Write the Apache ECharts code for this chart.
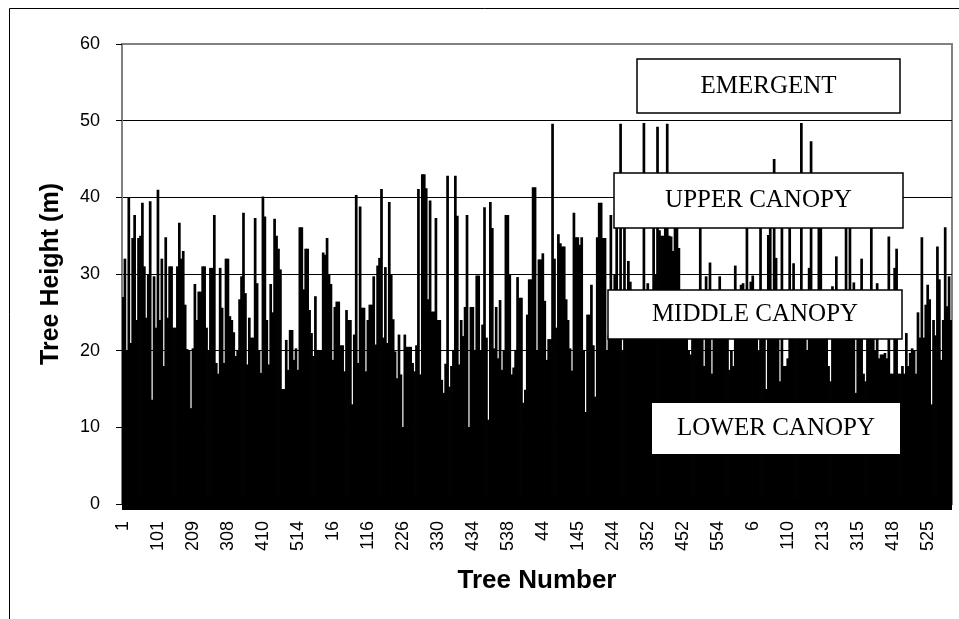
<!DOCTYPE html>
<html>
<head>
<meta charset="utf-8">
<script src="https://cdn.jsdelivr.net/npm/echarts@6/dist/echarts.min.js"></script>
<style>
html,body{margin:0;padding:0;background:#fff;}
#chart{width:959px;height:619px;}
</style>
</head>
<body>
<div id="chart"></div>
<script>
// Tick labels shown on the category axis (tree numbers, every 18th bar)
const tickLabels = ['1','101','209','308','410','514','16','116','226','330','434','538','44','145','244','352','452','554','6','110','213','315','418','525'];
const labelEvery = 18;

// Tree heights (m) left to right
const heights = [
27,32,20,40,21,34.7,37.7,24,34.7,35,39.3,31,24.3,30,39.5,13.6,29.7,23,41,24,
32,18,34.8,24.3,31,31,23,23,31,36.7,32,33,26,20.2,20,12.5,20.3,28.7,24,27.7,
27.7,31,31,23,20,30.8,30.8,37.7,18.4,17,30.8,25.6,18.4,32,32,24.5,24,22.4,19.3,20.1,
26.7,29.7,38,27.5,18.2,24.3,21.7,21.7,37.3,28.8,20,17.1,40.1,37.5,24,18.2,28.7,25,37.2,35,
33.3,30.6,15,15,21.4,17.5,22.7,22.7,18.8,20.3,17.5,36.1,36.1,28,33.3,33.3,25.3,22.3,19.3,27.1,
20.1,20,20,32.8,32.5,34.7,30,28.7,18.8,25.7,26.4,26.4,20.7,20.7,17.3,25.3,24,24,13,22.1,
40.3,18.4,38.8,25.6,25.6,17.3,24,26,26,29.7,20.8,31.1,32.1,41.1,21.7,30.9,21,39.4,30,24.1,
19.9,16.4,22.1,16.9,10,22.1,20.5,20.5,20.5,18.4,17.3,20.7,41.1,16.9,43,43,41.2,26.7,39.6,25.1,
25.1,37.3,24,24,16.2,14.5,18.3,42.8,15.3,18,20.1,42.8,37.6,18.2,24,21.9,25.7,37.7,10,25.7,
25.7,20.1,29.8,29.8,20,23.4,38.7,21.7,11,39.4,36,20.3,25.7,19,26.6,17.5,20.1,37.7,37.7,30,
16.9,17.8,20.1,29.6,26.9,26.9,13.2,14.9,24.7,29.3,29.3,41.3,41.3,20,31.9,31.9,32.7,26.5,18.8,21.5,
21.5,49.6,32,23,35.2,34,33.6,33.6,26.7,24,20.3,17.4,38,34.8,34.8,33.8,34.8,20.1,12,24.7,
24.7,28.6,20.7,14,34.8,39.3,39.3,34.7,34.7,20,22,37.7,25,30,38,25,49.6,20,37,22,
31.7,29,26,24,22,25,24,26,49.7,24,28.8,22,25,38,30,49.2,35.7,35,35,37,
49.6,35,34.9,33,37,37,33.4,24,22,25,26,20,19.5,24,26,25,23,38,24,18,
29.7,22,31.5,17,24,26,23,29.7,25,27,26,24,17.5,20,18,31.1,23,27,28.6,28.8,
24,37,22,29,29.8,25,26,20,38,24,27,15,35.1,37,22,45,32.1,26,16,37,
18,18,19,37,26,31.4,27,24,22,49.7,25,24,20,30.8,47.3,26,24,25,38,38,
24,27,25,18,16,28.4,24,32.3,26,24,25,27,37,25,37,24,28.9,14.5,26,24,
32,17,16,22,26,38,24,20,28.8,19,19.5,19.5,19.7,19,34.9,17,17,30.8,33.3,17,
17,18,17,22.3,18,19.7,20.3,20,17,25,21.7,34.8,21.7,26,28.6,26.7,13,24,22,33.6,
29.3,18.8,24,36.1,25.8,29.7,24
];

// Category names: tick label every labelEvery bars, blank otherwise
const categories = heights.map((_, i) => (i % labelEvery === 0 ? tickLabels[i / labelEvery] : ''));

// Canopy annotation texts
const canopyLabels = ['EMERGENT', 'UPPER CANOPY', 'MIDDLE CANOPY', 'LOWER CANOPY'];

const boxLayout = [
  {x: 637, y: 59, w: 263, h: 54, border: true},
  {x: 614, y: 173, w: 289, h: 55, border: true},
  {x: 608, y: 290, w: 294, h: 49, border: true},
  {x: 652, y: 403, w: 248, h: 51, border: false}
];

const graphics = [{
  type: 'rect', z: 100,
  shape: {x: 9.5, y: 8.5, width: 1000, height: 700},
  style: {fill: 'none', stroke: '#000', lineWidth: 1}
}];
boxLayout.forEach((b, k) => {
  graphics.push({
    type: 'rect', z: 100,
    shape: {x: b.x, y: b.y, width: b.w, height: b.h},
    style: {fill: '#fff', stroke: b.border ? '#000' : '#fff', lineWidth: b.border ? 1.5 : 0}
  });
  graphics.push({
    type: 'text', z: 101,
    style: {
      text: canopyLabels[k], x: b.x + b.w / 2, y: b.y + b.h / 2,
      font: '25px "Liberation Serif", "Times New Roman", serif', fill: '#000',
      textAlign: 'center', textVerticalAlign: 'middle', align: 'center', verticalAlign: 'middle'
    }
  });
});

const chart = echarts.init(document.getElementById('chart'), null, {renderer: 'canvas'});
chart.setOption({
  animation: false,
  backgroundColor: '#fff',
  grid: {left: 122, right: 7, top: 44, bottom: 115, show: true, borderColor: '#808080', borderWidth: 2, backgroundColor: 'transparent'},
  xAxis: {
    type: 'category',
    data: categories,
    boundaryGap: true,
    name: 'Tree Number',
    nameLocation: 'middle',
    nameGap: 64,
    nameTextStyle: {fontFamily: '"Liberation Sans", Arial, sans-serif', fontWeight: 'bold', fontSize: 26, color: '#000'},
    axisLine: {show: true, lineStyle: {color: '#000', width: 12, cap: 'butt'}},
    axisTick: {show: false},
    axisLabel: {interval: labelEvery - 1, rotate: 90, margin: 17, fontFamily: '"Liberation Sans", Arial, sans-serif', fontSize: 18, color: '#000'},
    splitLine: {show: false}
  },
  yAxis: {
    type: 'value',
    min: 0, max: 60, interval: 10,
    name: 'Tree Height (m)',
    nameLocation: 'middle',
    nameGap: 58,
    nameRotate: 90,
    nameTextStyle: {fontFamily: '"Liberation Sans", Arial, sans-serif', fontWeight: 'bold', fontSize: 25, color: '#000'},
    axisLine: {show: true, lineStyle: {color: '#808080', width: 2}},
    axisTick: {show: true, length: 6, lineStyle: {color: '#000', width: 1}},
    axisLabel: {margin: 22, fontFamily: '"Liberation Sans", Arial, sans-serif', fontSize: 18, color: '#000'},
    splitLine: {show: true, showMaxLine: false, lineStyle: {color: '#000', width: 1}}
  },
  series: [{
    type: 'bar',
    data: heights,
    barWidth: 2.7,
    itemStyle: {color: '#000'},
    silent: true
  }],
  graphic: graphics
});
</script>
</body>
</html>
